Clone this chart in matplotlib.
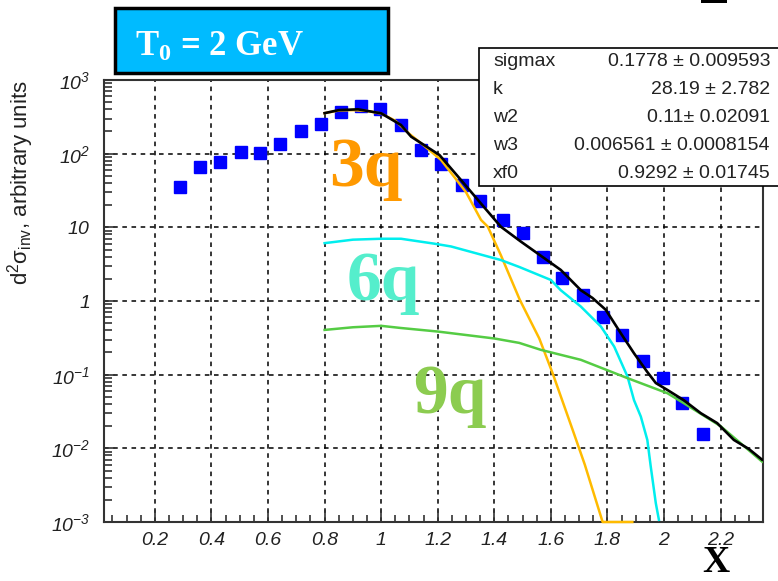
import numpy as np
import matplotlib
matplotlib.use("Agg")
import matplotlib.pyplot as plt
from matplotlib.patches import Rectangle
from matplotlib.ticker import MultipleLocator, LogLocator, NullFormatter

plt.rcParams['font.family'] = ['Liberation Sans', 'DejaVu Sans']
plt.rcParams['mathtext.fontset'] = 'custom'
# digits in mathtext come from the rm font, so rm is italic for the tick labels
plt.rcParams['mathtext.rm'] = 'Liberation Sans:italic'
plt.rcParams['mathtext.it'] = 'Liberation Sans:italic'
plt.rcParams['mathtext.sf'] = 'Liberation Sans'
plt.rcParams['mathtext.bf'] = 'Liberation Serif:bold'

# measured points (blue squares)
x_data = [0.288, 0.361, 0.429, 0.503, 0.573, 0.641, 0.715, 0.789, 0.859, 0.929,
          0.997, 1.070, 1.140, 1.212, 1.284, 1.350, 1.430, 1.500, 1.571, 1.641,
          1.712, 1.783, 1.853, 1.927, 1.997, 2.065, 2.139]
y_data = [35, 65, 76, 106, 103, 134, 200, 255, 365, 440,
          398, 245, 113, 72, 37, 22.5, 12.6, 8.3, 4.0, 2.08,
          1.21, 0.615, 0.347, 0.154, 0.0895, 0.041, 0.0158]

# total fit (black)
x_tot = [0.80, 0.85, 0.918, 1.00, 1.07, 1.106, 1.206, 1.282, 1.353, 1.423, 1.494,
         1.565, 1.635, 1.706, 1.747, 1.794, 1.847, 1.894, 1.940, 1.971, 2.012,
         2.07, 2.13, 2.188, 2.247, 2.30, 2.347]
y_tot = [355, 390, 400, 353, 245, 170, 96, 44, 21, 10.2, 6.4,
         4.1, 2.64, 1.4, 1.1, 0.76, 0.366, 0.195, 0.11, 0.077, 0.062,
         0.045, 0.030, 0.022, 0.013, 0.0098, 0.007]

# 3q component (orange)
x_3q = [0.80, 0.85, 0.90, 0.95, 1.00, 1.05, 1.10, 1.15, 1.212, 1.30, 1.353, 1.377,
        1.423, 1.49, 1.559, 1.606, 1.677, 1.72, 1.783, 1.83, 1.888]
y_3q = [355, 385, 390, 380, 350, 280, 185, 130, 82, 30, 12.6, 10.2,
        4.2, 1.04, 0.31, 0.105, 0.0178, 0.006, 0.001, 0.001, 0.001]

# 6q component (cyan)
x_6q = [0.80, 0.90, 1.00, 1.07, 1.188, 1.247, 1.423, 1.488, 1.60, 1.635, 1.706,
        1.777, 1.824, 1.871, 1.894, 1.918, 1.941, 1.953, 1.971, 1.982]
y_6q = [6.1, 6.8, 7.0, 7.0, 6.0, 5.5, 3.6, 2.9, 1.93, 1.4, 0.84,
        0.45, 0.24, 0.094, 0.045, 0.027, 0.013, 0.0057, 0.0018, 0.00107]

# 9q component (green)
x_9q = [0.80, 0.90, 1.00, 1.07, 1.20, 1.40, 1.488, 1.565, 1.706, 1.871, 2.012,
        2.07, 2.20, 2.347]
y_9q = [0.405, 0.44, 0.46, 0.43, 0.385, 0.31, 0.27, 0.217, 0.159, 0.0897, 0.056,
        0.041, 0.02, 0.0066]

y_ticks = [1e-3, 1e-2, 1e-1, 1, 10, 100, 1000]
y_ticklabels = [r'$10^{-3}$', r'$10^{-2}$', r'$10^{-1}$', r'$1$', r'$10$',
                r'$10^{2}$', r'$10^{3}$']
x_ticks = [0.2, 0.4, 0.6, 0.8, 1.0, 1.2, 1.4, 1.6, 1.8, 2.0, 2.2]
x_ticklabels = ['0.2', '0.4', '0.6', '0.8', '1', '1.2', '1.4', '1.6', '1.8', '2', '2.2']

stat_names = ['sigmax', 'k', 'w2', 'w3', 'xf0']
stat_values = ['0.1778 \u00b1 0.009593', '28.19 \u00b1 2.782', '0.11\u00b1 0.02091',
               '0.006561 \u00b1 0.0008154', '0.9292 \u00b1 0.01745']

W, H = 778, 581
fig = plt.figure(figsize=(W / 100, H / 100), dpi=100)
ax = fig.add_axes([104 / W, 1 - 522 / H, (763 - 104) / W, (522 - 80) / H])

ax.plot(x_data, y_data, 's', color='#0000ff', ms=8.2, zorder=3)
ax.plot(x_3q, y_3q, color='#ffbb00', lw=1.8, zorder=4, clip_on=False)
ax.plot(x_6q, y_6q, color='#00eeee', lw=1.8, zorder=4)
ax.plot(x_9q, y_9q, color='#55cc44', lw=1.8, zorder=4)
ax.plot(x_tot, y_tot, color='black', lw=1.9, zorder=5)

ax.set_yscale('log')
ax.set_ylim(1e-3, 1e3)
ax.set_xlim(0.02, 2.35)
ax.set_yticks(y_ticks)
ax.set_yticklabels(y_ticklabels)
ax.yaxis.set_minor_locator(LogLocator(base=10, subs=np.arange(2, 10), numticks=20))
ax.yaxis.set_minor_formatter(NullFormatter())
ax.set_xticks(x_ticks)
ax.set_xticklabels(x_ticklabels, fontstyle='italic')
ax.xaxis.set_minor_locator(MultipleLocator(0.05))

ax.tick_params(which='both', direction='in', top=False, right=False,
               color='#333333', width=1.2, labelsize=14, labelcolor='#222222')
ax.tick_params(axis='y', which='major', length=8, pad=10)
ax.tick_params(axis='y', which='minor', length=6)
ax.tick_params(axis='x', which='major', length=9, pad=7)
ax.tick_params(axis='x', which='minor', length=5)

ax.grid(which='major', color='black', ls=(0, (3, 3)), lw=1.1)
for s in ax.spines.values():
    s.set_color('#333333')
    s.set_linewidth(1.5)

ax.set_ylabel(r'd$^{\mathsf{2}}\mathsf{\sigma}_{\mathsf{inv}}$, arbitrary units',
              fontsize=16, loc='top', color='#222222')
ax.yaxis.set_label_coords(-0.103, 1.0)

# component labels
ax.text(0.816, 36.5, '3q', color='#ff9900', fontsize=50, family='Liberation Serif',
        weight='bold', va='baseline', zorder=6)
ax.text(0.877, 1.03, '6q', color='#55eecc', fontsize=50, family='Liberation Serif',
        weight='bold', va='baseline', zorder=6)
ax.text(1.113, 0.0303, '9q', color='#8ccc50', fontsize=50, family='Liberation Serif',
        weight='bold', va='baseline', zorder=6)

# title box
fig.add_artist(Rectangle((115 / W, 1 - 73 / H), (388 - 115) / W, (73 - 8) / H,
                         transform=fig.transFigure, fc='#00bbff', ec='black', lw=2.5, zorder=5))
fig.text(135 / W, 1 - 55 / H, r'T$_\mathbf{0}$ = 2 GeV', color='white', fontsize=25,
         family='Liberation Serif', weight='bold', va='baseline', zorder=6)

# fit statistics box
fig.add_artist(Rectangle((479 / W, 1 - 186 / H), (790 - 479) / W, (186 - 48) / H,
                         transform=fig.transFigure, fc='white', ec='black', lw=1.2, zorder=5))
row_y = [61, 90, 118, 145, 173]
for name, val, yy in zip(stat_names, stat_values, row_y):
    fig.text(493 / W, 1 - yy / H, name, fontsize=14, va='center', color='#222222', zorder=6)
    fig.text(770 / W, 1 - yy / H, val, fontsize=14, va='center', ha='right',
             color='#222222', zorder=6)

# axis title
fig.text(716 / W, 1.5 / H, 'X', fontsize=27, family='Liberation Serif',
         weight='bold', ha='center', va='bottom')

fig.add_artist(Rectangle((701 / W, 1 - 3 / H), 26 / W, 3 / H, transform=fig.transFigure,
                         fc='black', ec='none'))

fig.savefig('out.png', dpi=100)
